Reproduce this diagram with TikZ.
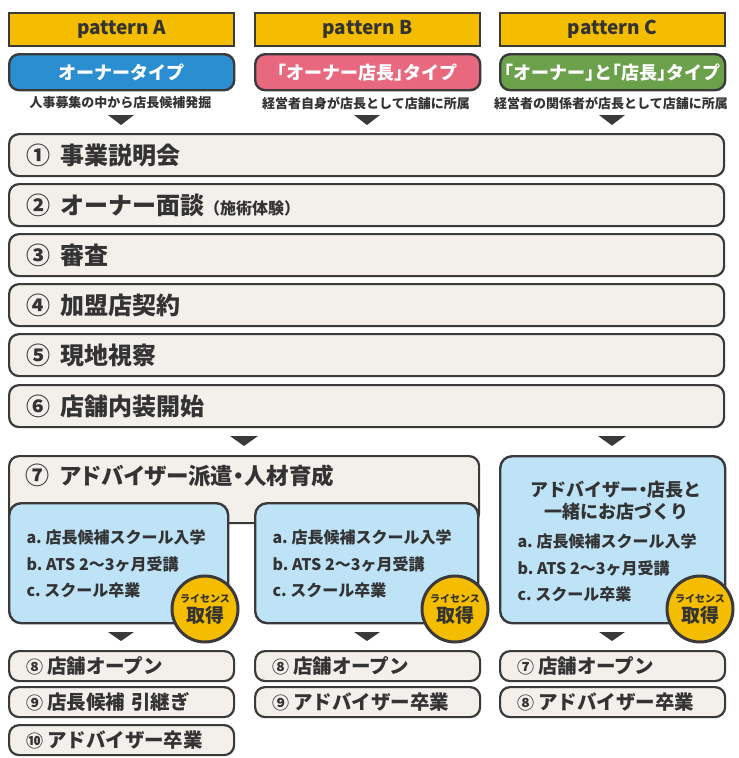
\documentclass[tikz,border=0pt]{standalone}
\usepackage{fontspec}
\setmainfont{Noto Sans CJK JP}[RawFeature={+halt}]
\newfontfamily\jppal{Noto Sans CJK JP}[RawFeature={+palt}]
\usetikzlibrary{positioning}

\definecolor{hdryellow}{HTML}{F5BD00}
\definecolor{linegray}{HTML}{3A3A3A}
\definecolor{inkgray}{HTML}{333333}
\definecolor{typeblue}{HTML}{2A8ED0}
\definecolor{typepink}{HTML}{E8687F}
\definecolor{typegreen}{HTML}{6BA14A}
\definecolor{stepfill}{HTML}{F3F0EC}
\definecolor{lightblue}{HTML}{BEE3F7}

\newcommand{\fsz}[1]{\fontsize{#1}{#1}\selectfont}

\tikzset{
  hdr/.style={draw=linegray, line width=2pt, fill=hdryellow, minimum width=225pt,
    minimum height=33pt, anchor=north west, text=inkgray, font=\bfseries\fsz{19}},
  pill/.style={draw=linegray, line width=2.4pt, rounded corners=10pt, minimum width=225pt,
    minimum height=36pt, anchor=north west, text=white, font=\bfseries\fsz{18}},
  desc/.style={text=inkgray, font=\bfseries\fsz{13}},
  stepbox/.style={draw=linegray, line width=2.2pt, fill=stepfill, rounded corners=10pt,
    minimum height=42pt, inner xsep=17pt, text width=681pt, align=left,
    anchor=north west, text=inkgray, font=\bfseries\fsz{24}},
  bluebox/.style={draw=linegray, line width=2.4pt, fill=lightblue, rounded corners=12pt,
    anchor=north west},
  listtxt/.style={align=left, text=inkgray, font=\bfseries\fontsize{16}{26.5}\selectfont},
  licence/.style={circle, draw=linegray, line width=3pt, fill=hdryellow, minimum size=66pt,
    inner sep=0pt, align=center, text=inkgray, font=\bfseries},
  endbox/.style={draw=linegray, line width=2.2pt, fill=stepfill, rounded corners=10pt,
    minimum height=30pt, inner xsep=17pt, text width=191pt, align=left,
    anchor=north west, text=inkgray, font=\bfseries\fsz{19.5}},
  tri/.style={fill=linegray}
}

\begin{document}
\begin{tikzpicture}[x=1pt,y=-1pt]
  \useasboundingbox (0,0) rectangle (739,758);

  % patterns
  \node[hdr] (pa) at (8,12) {pattern A};
  \node[hdr] (pb) at (254,12) {pattern B};
  \node[hdr] (pc) at (499,12) {pattern C};

  \node[pill, fill=typeblue] (ta) at (8,53) {オーナータイプ};
  \node[pill, fill=typepink] (tb) at (254,53) {「オーナー店長」タイプ};
  \node[pill, fill=typegreen] (tc) at (499,53) {「オーナー」と「店長」タイプ};

  \node[desc] (da) at (120.5,103) {人事募集の中から店長候補発掘};
  \node[desc] (db) at (366,103) {経営者自身が店長として店舗に所属};
  \node[desc] (dc) at (611,103) {経営者の関係者が店長として店舗に所属};

  \foreach \cx in {121,367,612}
    \fill[tri] (\cx-13,115) -- (\cx+13,115) -- (\cx,125) -- cycle;

  % common steps
  \node[stepbox] (s1) at (8,133) {①\hspace{0.45em}事業説明会};
  \node[stepbox] (s2) at (8,183) {②\hspace{0.45em}オーナー面談\hspace{0.3em}{\fsz{16}（施術体験）}};
  \node[stepbox] (s3) at (8,233) {③\hspace{0.45em}審査};
  \node[stepbox] (s4) at (8,283) {④\hspace{0.45em}加盟店契約};
  \node[stepbox] (s5) at (8,333) {⑤\hspace{0.45em}現地視察};
  \node[stepbox] (s6) at (8,384) {⑥\hspace{0.45em}店舗内装開始};

  \foreach \cx in {244,612}
    \fill[tri] (\cx-14,436) -- (\cx+14,436) -- (\cx,446) -- cycle;

  % step 7
  \node[stepbox, minimum height=67pt, text width=436pt] (s7) at (8,455) {};
  \node[anchor=west, text=inkgray, font=\jppal\bfseries\fsz{22.5}] (s7t) at (22,475)
    {{\fsz{24}⑦}\hspace{0.5em}アドバイザー派遣・人材育成};

  \node[bluebox, minimum width=219pt, minimum height=120pt] (ba) at (8,502) {};
  \node[bluebox, minimum width=223pt, minimum height=120pt] (bb) at (254,502) {};
  \node[bluebox, minimum width=225pt, minimum height=167pt] (bc) at (499,455) {};

  \node[listtxt, anchor=west] (la) at (23,564)
    {a.\ 店長候補スクール入学\\b.\ ATS 2〜3ヶ月受講\\c.\ スクール卒業};
  \node[listtxt, anchor=west] (lb) at (269,564)
    {a.\ 店長候補スクール入学\\b.\ ATS 2〜3ヶ月受講\\c.\ スクール卒業};
  \node[align=center, text=inkgray, font=\bfseries\fontsize{18}{22}\selectfont] (ct) at (616,501)
    {アドバイザー・店長と\\一緒にお店づくり};
  \node[listtxt, anchor=west] (lc) at (514,568)
    {a.\ 店長候補スクール入学\\b.\ ATS 2〜3ヶ月受講\\c.\ スクール卒業};

  \node[licence] (ka) at (205,609) {{\fsz{10}ライセンス}\\[2pt]{\fsz{19}取得}};
  \node[licence] (kb) at (455,609) {{\fsz{10}ライセンス}\\[2pt]{\fsz{19}取得}};
  \node[licence] (kc) at (700,609) {{\fsz{10}ライセンス}\\[2pt]{\fsz{19}取得}};

  \foreach \cx in {121,367,612}
    \fill[tri] (\cx-13,632) -- (\cx+13,632) -- (\cx,641) -- cycle;

  % last steps
  \node[endbox] (ea1) at (8,650) {{\fsz{17}⑧}\hspace{0.2em}店舗オープン};
  \node[endbox] (ea2) at (8,686) {{\fsz{17}⑨}\hspace{0.2em}店長候補 引継ぎ};
  \node[endbox] (ea3) at (8,724) {{\fsz{17}⑩}\hspace{0.2em}アドバイザー卒業};
  \node[endbox] (eb1) at (254,650) {{\fsz{17}⑧}\hspace{0.2em}店舗オープン};
  \node[endbox] (eb2) at (254,686) {{\fsz{17}⑨}\hspace{0.2em}アドバイザー卒業};
  \node[endbox] (ec1) at (499,650) {{\fsz{17}⑦}\hspace{0.2em}店舗オープン};
  \node[endbox] (ec2) at (499,686) {{\fsz{17}⑧}\hspace{0.2em}アドバイザー卒業};
\end{tikzpicture}
\end{document}
